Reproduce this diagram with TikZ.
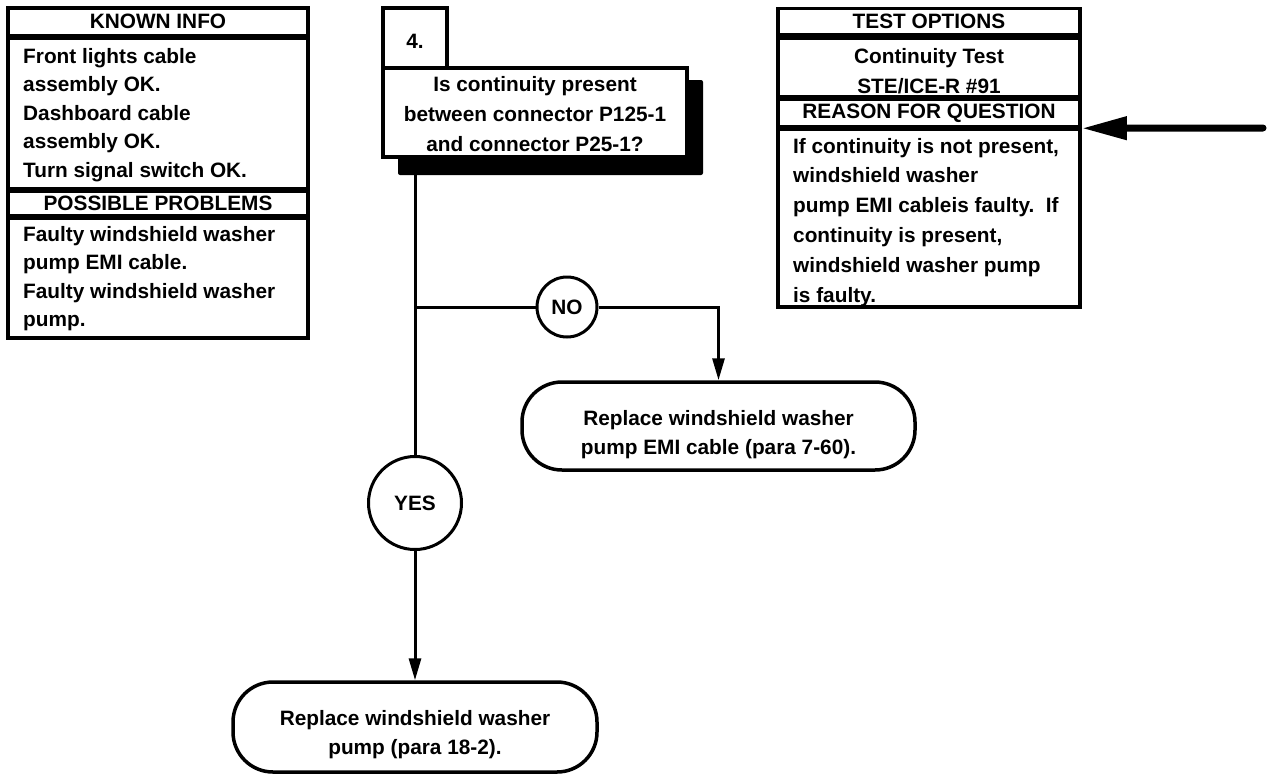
\documentclass[tikz,border=0pt]{standalone}
\usepackage{fontspec}
\setmainfont{Liberation Sans}
\usetikzlibrary{arrows.meta}
\begin{document}
\begin{tikzpicture}[x=1pt,y=-1pt,font=\fontsize{20.8}{28.6}\selectfont\bfseries,
  row/.style={draw,line width=3.5pt,inner sep=0pt},
  txt/.style={anchor=base west,inner sep=0pt},
  ans/.style={draw,circle,fill=white,line width=3pt,inner sep=0pt},
  act/.style={draw,line width=3.5pt,rounded corners=40pt,align=center,inner sep=0pt},
  flow/.style={line width=3pt},
  flowtip/.style={-{Triangle[length=22pt,width=12pt]}}]
\useasboundingbox (0,0) rectangle (1268,774);
% known info
\node[row,minimum width=300pt,minimum height=27.5pt] (kh) at (158,21.75) {KNOWN INFO};
\node[row,minimum width=300pt,minimum height=150pt] (ki) at (158,113.5) {};
\node[row,minimum width=300pt,minimum height=24pt] (ph) at (158,203.5) {POSSIBLE PROBLEMS};
\node[row,minimum width=300pt,minimum height=119.5pt] (pp) at (158,278.25) {};
\foreach \t [count=\i] in {Front lights cable,assembly OK.,Dashboard cable,assembly OK.,Turn signal switch OK.}
  \node[txt] (ki\i) at (23,{63+28.6*(\i-1)}) {\t};
\foreach \t [count=\i] in {Faulty windshield washer,pump EMI cable.,Faulty windshield washer,pump.}
  \node[txt] (pp\i) at (23,{241+28.6*(\i-1)}) {\t};
% test options
\node[row,minimum width=302pt,minimum height=26.5pt] (th) at (929,21.75) {TEST OPTIONS};
\node[row,minimum width=302pt,minimum height=58.5pt] (tc) at (929,67.25) {};
\node[row,minimum width=302pt,minimum height=27pt] (rh) at (929,113) {REASON FOR QUESTION};
\node[row,minimum width=302pt,minimum height=177.5pt] (rc) at (929,218.25) {};
\node[anchor=base,inner sep=0pt] (tc1) at (929,63) {Continuity Test};
\node[anchor=base,inner sep=0pt] (tc2) at (929,93) {STE/ICE-R \#91};
\foreach \t [count=\i] in {{If continuity is not present,},windshield washer,pump EMI cableis faulty.\ \ If,{continuity is present,},windshield washer pump,is faulty.}
  \node[txt] (rc\i) at (793,{153+29.8*(\i-1)}) {\t};
% question
\fill[rounded corners=2pt] (398,80) rectangle (703,175);
\node[row,fill=white,minimum width=64pt,minimum height=61pt] (num) at (415,38.5) {\rule{0pt}{20pt}4.};
\node[row,fill=white,minimum width=304pt,minimum height=89pt,align=center,
  font=\fontsize{20.8}{30}\selectfont\bfseries] (q) at (535,112.5)
  {\rule{0pt}{18pt}Is continuity present\\between connector P125-1\\and connector P25-1?};
% answers
\node[ans,minimum size=60pt] (no) at (567,307) {NO};
\node[ans,minimum size=93pt] (yes) at (415,503) {YES};
\node[act,minimum width=393pt,minimum height=88pt] (rno) at (718.5,426)
  {\rule{0pt}{32pt}Replace windshield washer\\pump EMI cable (para 7-60).};
\node[act,minimum width=364pt,minimum height=90pt] (ryes) at (415,727)
  {\rule{0pt}{30pt}Replace windshield washer\\pump (para 18-2).};
\coordinate (br) at (yes |- no);
\draw[flow] (q.south -| yes) -- (yes);
\draw[flow] (br) -- (no);
\draw[flow,flowtip] (no) -| (rno.north);
\draw[flow,flowtip] (yes) -- (ryes);
% arrow into the reason
\coordinate (src) at (1263,128);
\draw[line width=7pt,line cap=round,-{Triangle[length=45pt,width=22pt]}] (src) -- (rh.south east);
\end{tikzpicture}
\end{document}
